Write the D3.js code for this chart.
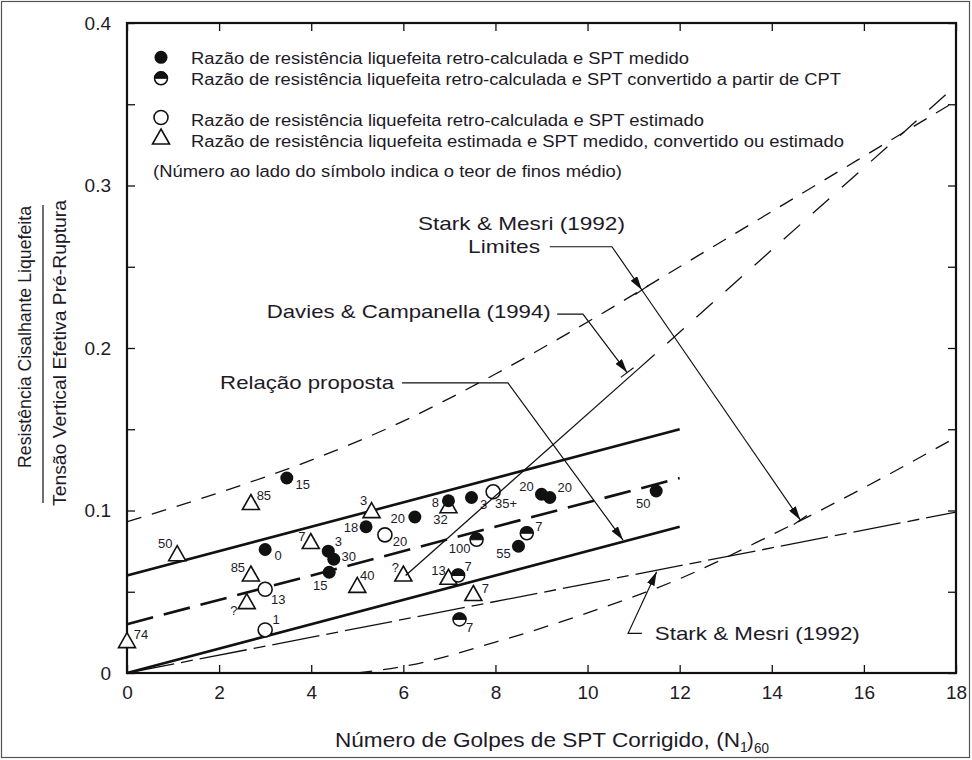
<!DOCTYPE html>
<html><head><meta charset="utf-8">
<script src="https://cdn.jsdelivr.net/npm/d3@7"></script>
<style>
body{margin:0;background:#fff}
svg{display:block}
text{font-family:"Liberation Sans",Arial,Helvetica,sans-serif;fill:#1e1a28}
</style>
</head><body>
<svg id="chart" width="972" height="760"></svg>
<script>
// ---------------- data ----------------
const xTickValues = [0,2,4,6,8,10,12,14,16,18];
const yTickValues = [0,0.05,0.1,0.15,0.2,0.25,0.3,0.35,0.4];
const yTickLabels = {"0":"0","0.1":"0.1","0.2":"0.2","0.3":"0.3","0.4":"0.4"};

// back-calculated strength ratio & measured SPT (filled circles)
const filledN   = [3.47,5.19,3.00,4.37,4.49,4.39,6.98,7.48,6.25,9.00,9.18,11.49,8.50];
const filledV   = [0.120,0.090,0.076,0.075,0.070,0.062,0.106,0.108,0.096,0.110,0.108,0.112,0.078];
const filledLbl = ["15","18","0","3","30","15","8","3","20","20","20","50","55"];
// back-calculated & SPT converted from CPT (half circles)
const halfN   = [7.59,8.68,7.19,7.22];
const halfV   = [0.082,0.086,0.060,0.033];
const halfLbl = ["100","7","7","7"];
// back-calculated & SPT estimated (open circles)
const openN   = [5.60,3.00,3.00,7.95];
const openV   = [0.085,0.0515,0.0265,0.1115];
const openLbl = ["20","13","1","35+"];
// estimated strength ratio (triangles)
const triN   = [2.69,5.31,1.09,3.99,2.69,5.00,2.60,0.00,6.98,6.00,6.98,7.52];
const triV   = [0.104,0.099,0.0725,0.080,0.060,0.053,0.043,0.019,0.102,0.060,0.058,0.048];
const triLbl = ["85","3","50","7","85","40","?","74","32","?","13","7"];

// proposed relationship
const propN     = [0,12];
const propUpper = [0.06,0.15];
const propMean  = [0.03,0.12];
const propLower = [0.00,0.09];
// Stark & Mesri (1992) line
const smN = [0,18];
const smV = [0,0.099];
// Stark & Mesri (1992) limits
const smUpN = [0,2,4,6,8,10,12,14,16,18];
const smUpV = [0.093,0.111,0.131,0.155,0.184,0.216,0.250,0.284,0.318,0.352];
const smLoN = [5,6,8,10,12,14,16,18];
const smLoV = [0,0.004,0.019,0.037,0.058,0.085,0.114,0.145];
// Davies & Campanella (1994)
const dcSolidN = [6.05,11.1];
const dcSolidV = [0.060,0.187];
const dcDashN  = [11.1,17.9];
const dcDashV  = [0.187,0.359];

// ---------------- layout / style ----------------
const filledOff = [[16,6],[-15,1],[13,6],[10,-10],[15,-3],[-9,13],[-13,2],[12,7],[-17,1],[-15,-8],[15,-10],[-13,12],[-15,7]];
const halfOff   = [[-17,9],[12,-7],[10,-9],[10,8]];
const openOff   = [[15,7],[13,10],[11,-10],[13,12]];
const triOff    = [[13,-9],[-8,-12],[-12,-12],[-9,-7],[-13,-8],[10,-11],[-13,7],[14,-8],[-8,12],[-8,-8],[-10,-8],[12,-7]];

const svg = d3.select("#chart");
const x = d3.scaleLinear().domain([0,18]).range([127,956]);
const y = d3.scaleLinear().domain([0,0.4]).range([673,23]);
const INK = "#111";

// outer picture border
svg.append("rect").attr("x",1.5).attr("y",1.5).attr("width",968).attr("height",756)
  .attr("fill","none").attr("stroke","#555").attr("stroke-width",1.2);

// arrowhead marker
const defs = svg.append("defs");
defs.append("marker").attr("id","arr").attr("viewBox","0 0 14 8").attr("refX",14).attr("refY",4)
  .attr("markerWidth",14).attr("markerHeight",8).attr("markerUnits","userSpaceOnUse").attr("orient","auto")
  .append("path").attr("d","M0,0 L14,4 L0,8 Z").attr("fill",INK);

// ---------- axes ----------
const fmtY = d => yTickLabels[String(+d.toFixed(2))] || "";
const gL = svg.append("g").attr("transform",`translate(${x(0)},0)`)
  .call(d3.axisLeft(y).tickValues(yTickValues).tickSizeInner(-8).tickSizeOuter(0).tickPadding(16).tickFormat(fmtY));
const gR = svg.append("g").attr("transform",`translate(${x(18)},0)`)
  .call(d3.axisRight(y).tickValues(yTickValues).tickSizeInner(-8).tickSizeOuter(0).tickFormat(""));
const gB = svg.append("g").attr("transform",`translate(0,${y(0)})`)
  .call(d3.axisBottom(x).tickValues(xTickValues).tickSizeInner(-8).tickSizeOuter(0).tickPadding(13).tickFormat(d3.format("d")));
const gT = svg.append("g").attr("transform",`translate(0,${y(0.4)})`)
  .call(d3.axisTop(x).tickValues(xTickValues).tickSizeInner(-8).tickSizeOuter(0).tickFormat(""));
[gL,gR,gB,gT].forEach(g=>{
  g.select(".domain").remove();
  g.selectAll(".tick line").attr("stroke",INK).attr("stroke-width",1.3);
  g.selectAll("text").attr("font-size",19).attr("fill","#222");
});
svg.append("rect").attr("x",x(0)).attr("y",y(0.4)).attr("width",x(18)-x(0)).attr("height",y(0)-y(0.4))
  .attr("fill","none").attr("stroke",INK).attr("stroke-width",2.2);

// axis titles
const xt = svg.append("g");
xt.append("text").attr("x",335).attr("y",747).attr("font-size",20).attr("textLength",405)
  .attr("lengthAdjust","spacingAndGlyphs").text("Número de Golpes de SPT Corrigido, (N");
xt.append("text").attr("x",740).attr("y",752).attr("font-size",14).text("1");
xt.append("text").attr("x",747).attr("y",747).attr("font-size",20).text(")");
xt.append("text").attr("x",754).attr("y",753).attr("font-size",15).attr("textLength",15)
  .attr("lengthAdjust","spacingAndGlyphs").text("60");

const yt = svg.append("g");
yt.append("text").attr("transform","translate(31,337) rotate(-90)").attr("text-anchor","middle")
  .attr("font-size",18.5).attr("textLength",262).attr("lengthAdjust","spacingAndGlyphs")
  .text("Resistência Cisalhante Liquefeita");
yt.append("line").attr("x1",43).attr("x2",43).attr("y1",205).attr("y2",503).attr("stroke",INK).attr("stroke-width",1.2);
yt.append("text").attr("transform","translate(66,353) rotate(-90)").attr("text-anchor","middle")
  .attr("font-size",18.5).attr("textLength",306).attr("lengthAdjust","spacingAndGlyphs")
  .text("Tensão Vertical Efetiva Pré-Ruptura");

// ---------- curves ----------
const line = d3.line().x(d=>x(d[0])).y(d=>y(d[1]));
const curve = d3.line().x(d=>x(d[0])).y(d=>y(d[1])).curve(d3.curveMonotoneX);
const zip = (a,b)=>a.map((v,i)=>[v,b[i]]);

svg.append("path").attr("d",line(zip(smN,smV))).attr("fill","none").attr("stroke",INK)
  .attr("stroke-width",1.3).attr("stroke-dasharray","48,7,12,7");
svg.append("path").attr("d",curve(zip(smUpN,smUpV))).attr("fill","none").attr("stroke",INK)
  .attr("stroke-width",1.3).attr("stroke-dasharray","15,11");
svg.append("path").attr("d",curve(zip(smLoN,smLoV))).attr("fill","none").attr("stroke",INK)
  .attr("stroke-width",1.3).attr("stroke-dasharray","15,11");

svg.append("path").attr("d",line(zip(propN,propUpper))).attr("fill","none").attr("stroke",INK).attr("stroke-width",2.6);
svg.append("path").attr("d",line(zip(propN,propLower))).attr("fill","none").attr("stroke",INK).attr("stroke-width",2.6);
svg.append("path").attr("d",line(zip(propN,propMean))).attr("fill","none").attr("stroke",INK)
  .attr("stroke-width",2.6).attr("stroke-dasharray","27,11");

// ---------- markers ----------
const R = 6.5;
function drawFilled(g,cx,cy){ g.append("circle").attr("cx",cx).attr("cy",cy).attr("r",R).attr("fill",INK); }
function drawHalf(g,cx,cy){
  g.append("circle").attr("cx",cx).attr("cy",cy).attr("r",R).attr("fill","#fff").attr("stroke",INK).attr("stroke-width",1.5);
  g.append("path").attr("transform",`translate(${cx},${cy})`)
    .attr("d",`M${-R},0 A${R},${R} 0 0 1 ${R},0 Z`).attr("fill",INK).attr("stroke",INK).attr("stroke-width",1);
}
function drawOpen(g,cx,cy){ g.append("circle").attr("cx",cx).attr("cy",cy).attr("r",R+0.5).attr("fill","#fff").attr("stroke",INK).attr("stroke-width",1.6); }
function drawTri(g,cx,cy){
  g.append("path").attr("transform",`translate(${cx},${cy})`).attr("d","M0,-9.5 L8.5,5.5 L-8.5,5.5 Z")
    .attr("fill","#fff").attr("stroke",INK).attr("stroke-width",1.6).attr("stroke-linejoin","miter");
}
const mk = svg.append("g");
const lb = svg.append("g").attr("font-size",13);
function series(Ns,Vs,L,off,fn){
  Ns.forEach((n,i)=>{
    const cx=x(n), cy=y(Vs[i]);
    fn(mk,cx,cy);
    lb.append("text").attr("x",cx+off[i][0]).attr("y",cy+off[i][1]).attr("text-anchor","middle")
      .attr("dominant-baseline","central").attr("fill","#222").text(L[i]);
  });
}
series(triN,triV,triLbl,triOff,drawTri);
series(openN,openV,openLbl,openOff,drawOpen);
series(halfN,halfV,halfLbl,halfOff,drawHalf);
series(filledN,filledV,filledLbl,filledOff,drawFilled);

// Davies & Campanella line (drawn over symbols)
svg.append("path").attr("d",line(zip(dcSolidN,dcSolidV))).attr("fill","none").attr("stroke",INK).attr("stroke-width",1.3);
svg.append("path").attr("d",line(zip(dcDashN,dcDashV))).attr("fill","none").attr("stroke",INK)
  .attr("stroke-width",1.3).attr("stroke-dasharray","22,17");

// ---------- annotations (data coordinates) ----------
const P = (n,v)=>[x(n),y(v)];
function leader(pts){
  const p = pts.map(d=>P(d[0],d[1]));
  svg.append("path").attr("d",d3.line()(p)).attr("fill","none").attr("stroke",INK)
    .attr("stroke-width",1.2).attr("marker-end","url(#arr)");
}
function bar(n,v,from){
  const [tx,ty]=P(n,v), [fx,fy]=P(from[0],from[1]);
  const dx=tx-fx, dy=ty-fy, L=Math.hypot(dx,dy), ux=-dy/L*8, uy=dx/L*8;
  svg.append("line").attr("x1",tx-ux).attr("y1",ty-uy).attr("x2",tx+ux).attr("y2",ty+uy)
    .attr("stroke",INK).attr("stroke-width",1.2);
}
// Stark & Mesri limits: two arrows on one leader
leader([[9.18,0.2623],[10.53,0.2623],[11.18,0.2357]]);
leader([[11.18,0.2357],[14.62,0.0942]]);
bar(11.18,0.2357,[10.53,0.2623]);
bar(14.62,0.0942,[11.18,0.2357]);
// Davies & Campanella
leader([[9.34,0.2209],[9.90,0.2209],[10.86,0.1849]]);
bar(10.86,0.1849,[9.90,0.2209]);
// Relação proposta
leader([[5.97,0.1785],[8.27,0.1785],[10.77,0.0818]]);
// Stark & Mesri line
leader([[11.18,0.0244],[10.88,0.0244],[11.50,0.0623]]);

const ann = svg.append("g").attr("font-size",19);
function atext(n,v,anchor,len,t){
  const [px,py]=P(n,v);
  ann.append("text").attr("x",px).attr("y",py).attr("text-anchor",anchor).attr("dominant-baseline","central")
    .attr("textLength",len).attr("lengthAdjust","spacingAndGlyphs").text(t);
}
atext(8.565,0.2767,"middle",207,"Stark & Mesri (1992)");
atext(8.97,0.2623,"end",72,"Limites");
atext(9.20,0.2225,"end",284,"Davies & Campanella (1994)");
atext(5.80,0.1785,"end",174,"Relação proposta");
atext(11.46,0.0244,"start",205,"Stark & Mesri (1992)");

// ---------- legend ----------
const lg = svg.append("g").attr("font-size",16);
const legendRows = [
  {fn:drawFilled, sy:57.3, ty:58.3, len:498, t:"Razão de resistência liquefeita retro-calculada e SPT medido"},
  {fn:drawHalf,   sy:78.3, ty:79.3, len:650, t:"Razão de resistência liquefeita retro-calculada e SPT convertido a partir de CPT"},
  {fn:drawOpen,   sy:117.5,ty:120,  len:513, t:"Razão de resistência liquefeita retro-calculada e SPT estimado"},
  {fn:drawTri,    sy:138.5,ty:141,  len:653, t:"Razão de resistência liquefeita estimada e SPT medido, convertido ou estimado"}
];
legendRows.forEach(r=>{
  r.fn(lg,161,r.sy);
  lg.append("text").attr("x",191).attr("y",r.ty).attr("dominant-baseline","central")
    .attr("textLength",r.len).attr("lengthAdjust","spacingAndGlyphs").text(r.t);
});
lg.append("text").attr("x",153).attr("y",171.7).attr("dominant-baseline","central")
  .attr("textLength",469).attr("lengthAdjust","spacingAndGlyphs")
  .text("(Número ao lado do símbolo indica o teor de finos médio)");
</script>
</body></html>
